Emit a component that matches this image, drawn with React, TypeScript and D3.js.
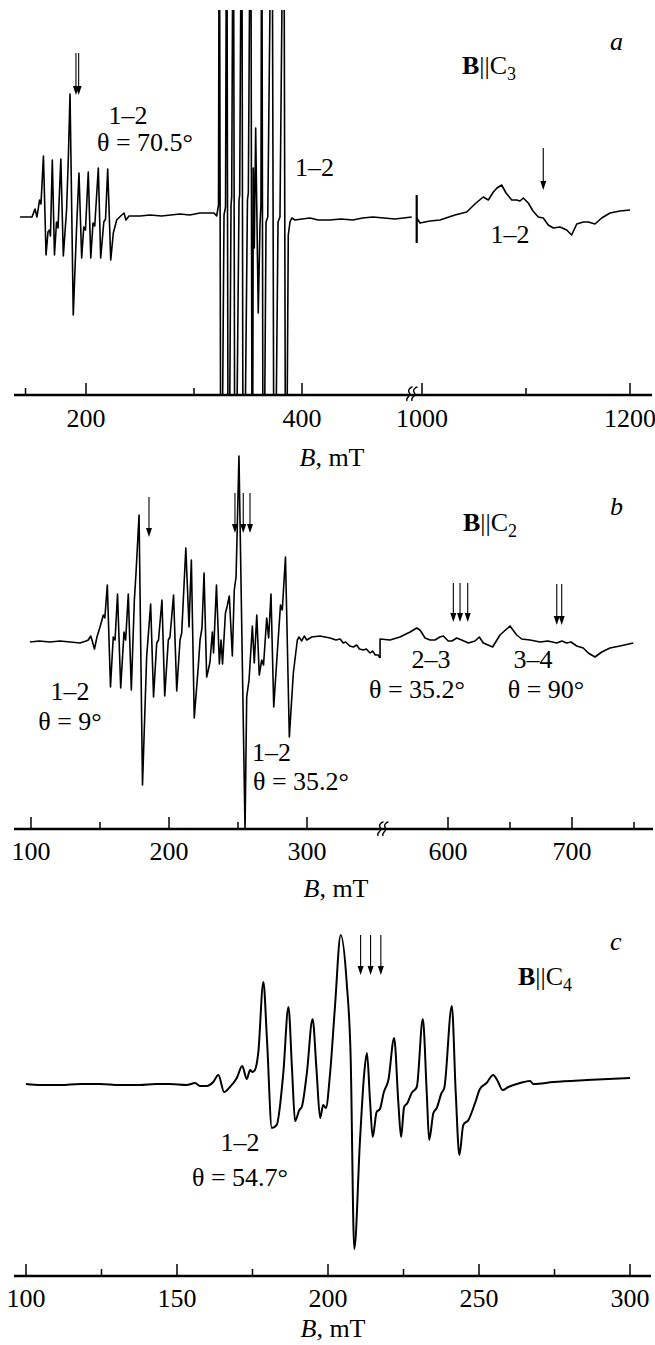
import React from 'react';
import * as d3 from 'd3';

type Pt = [number, number];

const FONT = '"Liberation Serif", "Times New Roman", Times, serif';
const FS = 26;

// ---------- Panel a: B || C3 (field in mT, intensity in a.u.) ----------
const aLowField: Pt[] = [
  [138.9, 0], [148.1, 0], [150, 0], [152.8, 8], [154.6, 0], [157, 17], [158.3, 13],
  [160.6, 61], [163, -38], [164.8, -15], [166.2, -13], [167.1, -19], [168.8, 57],
  [170.8, -38], [172.7, -5], [174.1, -11], [176.7, 58], [179, -39], [182, 7], [183.6, 57],
  [185.2, 123], [188.2, -98], [191.2, -13], [193.5, 44], [196, -41], [197.9, -10],
  [199.5, -13], [202.1, 45], [204.4, -41], [206.5, -6], [208.1, -9], [211.4, 49],
  [213.6, -41], [216.5, -5], [218.1, -2], [220.1, 48], [222.9, -43], [225.3, -16],
  [228.4, -3], [232.1, 1], [235.2, 4], [237, -3], [239.8, 1], [250, 1], [259.3, 2],
  [270, 1], [287, 3], [296, 2], [305.6, 4], [318.5, 4], [321, 1],
  [322.7, 12], [323.4, 400], [325, -400], [327.8, 2], [329.2, 10], [330.3, 400],
  [331.8, -400], [334.3, 12], [334.9, 20], [336.4, 400], [338, -400], [341.7, 17],
  [342.3, 22], [344.2, 400], [345.6, -400], [349.5, 17], [350.3, 24], [352.5, 400],
  [354, -400], [354.9, 49], [355.8, -31], [357.1, 89], [359.5, -96], [361.1, -8],
  [362, 12], [362.7, 400], [364.1, -400], [366.7, -5], [368.3, 0], [372.2, 400],
  [374.3, -400], [377.8, -5], [379.6, 0], [383.1, 400], [385, -400], [387.3, -18],
  [388.9, -5], [390.5, -1], [393.5, -3], [400, -2], [407.4, -1], [415, -3], [425.9, -3],
  [436, -2], [447.2, -3], [456, -1], [465.7, 0], [476, -1], [486.1, -2], [494, -1], [501.6, 0],
];
const aHighField: Pt[] = [
  [994.9, -1], [998.1, -6], [1007.7, -4], [1017.3, -3], [1031.7, 2], [1043, 5],
  [1051.9, 14], [1058.9, 20], [1063.8, 17], [1068.6, 25], [1072.1, 29], [1076.6, 32],
  [1080.8, 24], [1086.3, 17], [1091.1, 17], [1094.2, 16], [1097.4, 19], [1102.2, 14],
  [1106.7, 6], [1111.8, 0], [1116.6, -1], [1121.4, -8], [1126.3, -11], [1132.7, -10],
  [1139.1, -13], [1143.9, -18], [1148.8, -7], [1155.1, -5], [1159.9, -5], [1166.3, -7],
  [1172.8, -1], [1180.8, 4], [1190.4, 6], [1200, 7],
];
const aSegmentMark = { field: 994.9, from: 22, to: -26 };
const aLowMajor = [200, 400];
const aLowMinor = [144, 300];
const aHighMajor = [1000, 1200];
const aHighMinor = [1100];
const aArrowsLow = [190.7, 193.2];
const aArrowsHigh = [1116.6];

// ---------- Panel b: B || C2 ----------
const bLowField: Pt[] = [
  [99.3, -1], [106, 0], [113.8, -1], [121, 0], [128.3, -1], [135.5, -2], [139.9, 0],
  [141.5, 1], [143.3, 5], [144.6, -1], [146, -8], [147.8, 4], [150, 14], [152.4, 26],
  [153.5, 23], [155.3, 56], [157.6, -46], [159.6, 4], [160.9, 1], [162.7, 47], [165, -47],
  [167.4, 9], [168.6, 1], [170.5, 47], [172.7, -49], [174.9, 41], [176.1, 68], [178.3, 126],
  [180.8, -144], [183.8, -16], [186.7, 37], [188.8, -56], [191.1, -2], [192.4, 1],
  [194.9, 41], [196.9, -55], [199.5, 1], [200.7, 4], [203.3, 46], [205.6, -50], [208, 1],
  [209.2, 8], [212.2, 93], [214.5, 14], [216.2, 81], [218.3, -77], [221.2, -26], [222.5, 1],
  [223.9, 13], [225.4, 68], [227.3, -36], [228.5, -29], [229.7, -21], [231.4, 9],
  [232.3, -12], [234.4, 56], [236.5, -23], [237.7, 1], [238.8, -23], [240.9, 28],
  [242.2, 35], [243.7, 45], [245.9, -15], [247.3, 51], [248.6, 64], [250.7, 185],
  [255.1, -189], [256.3, -56], [258, -39], [260.4, 15], [261.8, -22], [263.6, 26],
  [265.4, -34], [267.2, -19], [268.5, -24], [270.8, 23], [272.2, 3], [273.9, 47],
  [275.9, -66], [278.5, -11], [280.8, 36], [282.1, 31], [284.4, 84], [287.2, -96],
  [290.1, -32], [293, 1], [294.2, 4], [296.2, 0], [298, 5], [299.8, 1], [303.4, 4],
  [309.4, 5], [316.7, 3], [321, 1], [324, 2], [326.3, -2], [328, -1], [331, -5],
  [333.6, -6], [336, -4], [338, -8], [340.8, -9], [343, -8], [345.7, -12], [347.5, -10],
  [349.5, -14], [351.7, -14], [352.9, -17],
];
const bHighField: Pt[] = [
  [545.2, -17], [545.2, 2], [553.2, 1], [561.3, 4], [569.4, 9], [574.8, 13], [577.4, 11],
  [581.5, 3], [585.5, 1], [589.5, 1], [593.5, 4], [596.2, 5], [600.2, 0], [603.2, 0],
  [607, 3], [611, 1], [616.4, -2], [621.8, 0], [625.2, 4], [628.5, -2], [632.3, -4],
  [636, -6], [641.9, 6], [650, 15], [655.4, 6], [659.4, 2], [666.1, 1], [674.2, -1],
  [680.6, 0], [687.7, -2], [691.9, 0], [695.7, -2], [699.2, -1], [703.8, -5], [709.1, -7],
  [713.1, -12], [718.5, -16], [724, -11], [730.6, -7], [738.7, -5], [749.4, -2],
];
const bLowMajor = [100, 200, 300];
const bLowMinor = [150, 250];
const bHighMajor = [600, 700];
const bHighMinor = [650, 750];
const bArrowsLow = [185.5, 247.8, 253.8, 258.7];
const bArrowsHighA = [604.3, 609.7, 615.9];
const bArrowsHighB = [687.7, 691.7];

// ---------- Panel c: B || C4 ----------
const cField: Pt[] = [
  [100, 0], [105, -1], [111.3, -1], [118, 0], [124.5, 0], [131, -1], [137.7, -1],
  [143, 0], [147.7, 0], [153.2, -1], [156, 1], [157.6, -2], [159.8, -2], [162, 2],
  [163.7, 9], [165.6, -8], [167.5, -3], [169.8, 6], [171.6, 18], [173.1, 5], [174.2, 14],
  [175, 12], [175.8, 14], [176.9, 31], [178.6, 102], [179.8, 44], [181.4, -44], [183, -41],
  [185.2, 11], [186.9, 77], [188.1, 14], [189.1, -37], [190.5, -26], [191.3, -23], [193, 11],
  [194.9, 65], [196.2, 14], [197.4, -34], [198.4, -21], [199.3, -24], [200.7, 11],
  [202.3, 77], [204.2, 149], [206.2, 101], [207.5, 27], [208.7, -165], [210.6, -56],
  [212, 11], [212.9, 31], [213.9, -16], [214.8, -53], [216.1, -28], [217.2, -25],
  [218.5, -8], [220, 4], [221.9, 46], [223.3, -19], [224.2, -53], [225.2, -23],
  [226.3, -19], [227.7, -9], [229.4, -3], [231.4, 65], [232.7, -9], [233.5, -56],
  [234.9, -29], [236, -24], [237.6, -9], [238.5, -4], [241, 78], [242.3, -9], [243.5, -71],
  [244.8, -41], [246.5, -36], [248.7, -19], [250.3, -5], [252.5, 1], [254.7, 9], [256, 4],
  [257.8, -6], [259.7, -3], [263.6, 1], [266.9, 3], [268, 0], [274.6, 2], [285.7, 4], [300, 6],
];
const cMajor = [100, 150, 200, 250, 300];
const cMinor = [125, 175, 225, 275];
const cArrows = [210.8, 214.1, 217.5];

type Scale = d3.ScaleLinear<number, number>;

function Arrow({ x, yTop, yTip }: { x: number; yTop: number; yTip: number }) {
  const head = 9;
  const half = 3;
  return (
    <g>
      <line x1={x} x2={x} y1={yTop} y2={yTip - head + 1} stroke="#000" strokeWidth={1.1} />
      <path d={`M${x - half},${yTip - head} L${x + half},${yTip - head} L${x},${yTip} Z`} fill="#000" />
    </g>
  );
}

// Two small "s" strokes marking the gap in the field axis
function BreakMark({ x, y }: { x: number; y: number }) {
  const s = (cx: number) =>
    `M${cx - 2.5},${y + 7} C${cx - 4.5},${y + 3} ${cx + 2.5},${y + 2} ${cx},${y - 1} C${cx - 2.5},${y - 4} ${cx + 1},${y - 7} ${cx + 3},${y - 7}`;
  return (
    <g fill="none" stroke="#000" strokeWidth={1.3}>
      <path d={s(x - 2.5)} />
      <path d={s(x + 2.5)} />
    </g>
  );
}

function Ticks({ scale, major, minor, y, labelY }: { scale: Scale; major: number[]; minor: number[]; y: number; labelY: number }) {
  return (
    <g>
      {major.map((v) => (
        <g key={`M${v}`}>
          <line x1={scale(v)} x2={scale(v)} y1={y} y2={y - 12} stroke="#000" strokeWidth={1.5} />
          <text x={scale(v)} y={labelY} textAnchor="middle" fontSize={FS} fontFamily={FONT}>
            {v}
          </text>
        </g>
      ))}
      {minor.map((v) => (
        <line key={`m${v}`} x1={scale(v)} x2={scale(v)} y1={y} y2={y - 7} stroke="#000" strokeWidth={1.5} />
      ))}
    </g>
  );
}

function FieldLabel({ x, y }: { x: number; y: number }) {
  return (
    <text x={x} y={y} textAnchor="middle" fontSize={FS} fontFamily={FONT}>
      <tspan fontStyle="italic">B</tspan>, mT
    </text>
  );
}

function Orientation({ x, y, axis }: { x: number; y: number; axis: string }) {
  return (
    <text x={x} y={y} fontSize={FS} fontFamily={FONT}>
      <tspan fontWeight="bold">B</tspan>||C
      <tspan fontSize={18} dy={6}>
        {axis}
      </tspan>
    </text>
  );
}

function Label({ x, y, children, anchor = 'middle', italic = false }: any) {
  return (
    <text x={x} y={y} textAnchor={anchor} fontSize={FS} fontFamily={FONT} fontStyle={italic ? 'italic' : 'normal'}>
      {children}
    </text>
  );
}

export default function App() {
  // Panel a scales
  const axA = 395;
  const xaL = d3.scaleLinear().domain([200, 400]).range([86, 302]);
  const xaH = d3.scaleLinear().domain([1000, 1200]).range([422, 630]);
  const ya = d3.scaleLinear().domain([-178, 207]).range([axA, 10]);

  // Panel b scales
  const axB = 829;
  const xbL = d3.scaleLinear().domain([100, 300]).range([31, 307]);
  const xbH = d3.scaleLinear().domain([600, 700]).range([448, 572]);
  const yb = d3.scaleLinear().domain([-188, 0]).range([axB, 641]);

  // Panel c scales
  const axC = 1276;
  const xc = d3.scaleLinear().domain([100, 300]).range([26, 630]);
  const yc = d3.scaleLinear().domain([-192, 0]).range([axC, 1084]);

  const lineOf = (x: Scale, y: Scale, curve: d3.CurveFactory = d3.curveLinear) =>
    d3
      .line<Pt>()
      .x((d) => x(d[0]))
      .y((d) => y(d[1]))
      .curve(curve);

  const spec = { fill: 'none', stroke: '#000', strokeWidth: 1.6, strokeLinejoin: 'round' as const };

  return (
    <svg
      width={655}
      height={1345}
      viewBox="0 0 655 1345"
      style={{ position: 'absolute', left: 0, top: 0, background: '#fff' }}
    >
      <defs>
        <clipPath id="clipA">
          <rect x={0} y={10} width={655} height={axA - 10} />
        </clipPath>
        <clipPath id="clipB">
          <rect x={0} y={430} width={655} height={axB - 430} />
        </clipPath>
      </defs>
      <rect x={0} y={0} width={655} height={1345} fill="#fff" />

      {/* ---------------- a ---------------- */}
      <g clipPath="url(#clipA)">
        <path d={lineOf(xaL, ya)(aLowField) || ''} {...spec} />
        <path d={lineOf(xaH, ya)(aHighField) || ''} {...spec} />
      </g>
      <line
        x1={xaH(aSegmentMark.field)}
        x2={xaH(aSegmentMark.field)}
        y1={ya(aSegmentMark.from)}
        y2={ya(aSegmentMark.to)}
        stroke="#000"
        strokeWidth={2.2}
      />
      <line x1={14} x2={652} y1={axA} y2={axA} stroke="#000" strokeWidth={2.5} />
      <Ticks scale={xaL} major={aLowMajor} minor={aLowMinor} y={axA} labelY={427} />
      <Ticks scale={xaH} major={aHighMajor} minor={aHighMinor} y={axA} labelY={427} />
      <BreakMark x={412} y={axA - 1} />
      {aArrowsLow.map((b) => (
        <Arrow key={b} x={xaL(b)} yTop={ya(164)} yTip={ya(122)} />
      ))}
      {aArrowsHigh.map((b) => (
        <Arrow key={b} x={xaH(b)} yTop={ya(69)} yTip={ya(27)} />
      ))}
      <FieldLabel x={332} y={466} />
      <Label x={610} y={50} anchor="start" italic>a</Label>
      <Orientation x={462} y={74} axis="3" />
      <Label x={128} y={124}>1–2</Label>
      <Label x={145} y={151}>θ = 70.5°</Label>
      <Label x={295} y={176} anchor="start">1–2</Label>
      <Label x={510} y={243}>1–2</Label>

      {/* ---------------- b ---------------- */}
      <g clipPath="url(#clipB)">
        <path d={lineOf(xbL, yb)(bLowField) || ''} {...spec} />
        <path d={lineOf(xbH, yb)(bHighField) || ''} {...spec} />
      </g>
      <line x1={14} x2={653} y1={axB} y2={axB} stroke="#000" strokeWidth={2.5} />
      <Ticks scale={xbL} major={bLowMajor} minor={bLowMinor} y={axB} labelY={860} />
      <Ticks scale={xbH} major={bHighMajor} minor={bHighMinor} y={axB} labelY={860} />
      <BreakMark x={383} y={axB} />
      {bArrowsLow.map((b) => (
        <Arrow key={b} x={xbL(b)} yTop={yb(b < 200 ? 144 : 148)} yTip={yb(b < 200 ? 104 : 108)} />
      ))}
      {bArrowsHighA.map((b) => (
        <Arrow key={b} x={xbH(b)} yTop={yb(58)} yTip={yb(19)} />
      ))}
      {bArrowsHighB.map((b) => (
        <Arrow key={b} x={xbH(b)} yTop={yb(57)} yTip={yb(16)} />
      ))}
      <FieldLabel x={336} y={897} />
      <Label x={610} y={515} anchor="start" italic>b</Label>
      <Orientation x={463} y={531} axis="2" />
      <Label x={70} y={700}>1–2</Label>
      <Label x={70} y={730}>θ = 9°</Label>
      <Label x={252} y={761} anchor="start">1–2</Label>
      <Label x={253} y={790} anchor="start">θ = 35.2°</Label>
      <Label x={431} y={668}>2–3</Label>
      <Label x={417} y={698}>θ = 35.2°</Label>
      <Label x={533} y={668}>3–4</Label>
      <Label x={546} y={698}>θ = 90°</Label>

      {/* ---------------- c ---------------- */}
      <path d={lineOf(xc, yc, d3.curveMonotoneX)(cField) || ''} {...spec} strokeWidth={2} />
      <line x1={14} x2={651} y1={axC} y2={axC} stroke="#000" strokeWidth={2.5} />
      <Ticks scale={xc} major={cMajor} minor={cMinor} y={axC} labelY={1307} />
      {cArrows.map((b) => (
        <Arrow key={b} x={xc(b)} yTop={yc(149)} yTip={yc(109)} />
      ))}
      <FieldLabel x={333} y={1337} />
      <Label x={610} y={950} anchor="start" italic>c</Label>
      <Orientation x={518} y={985} axis="4" />
      <Label x={240} y={1151}>1–2</Label>
      <Label x={240} y={1186}>θ = 54.7°</Label>
    </svg>
  );
}
